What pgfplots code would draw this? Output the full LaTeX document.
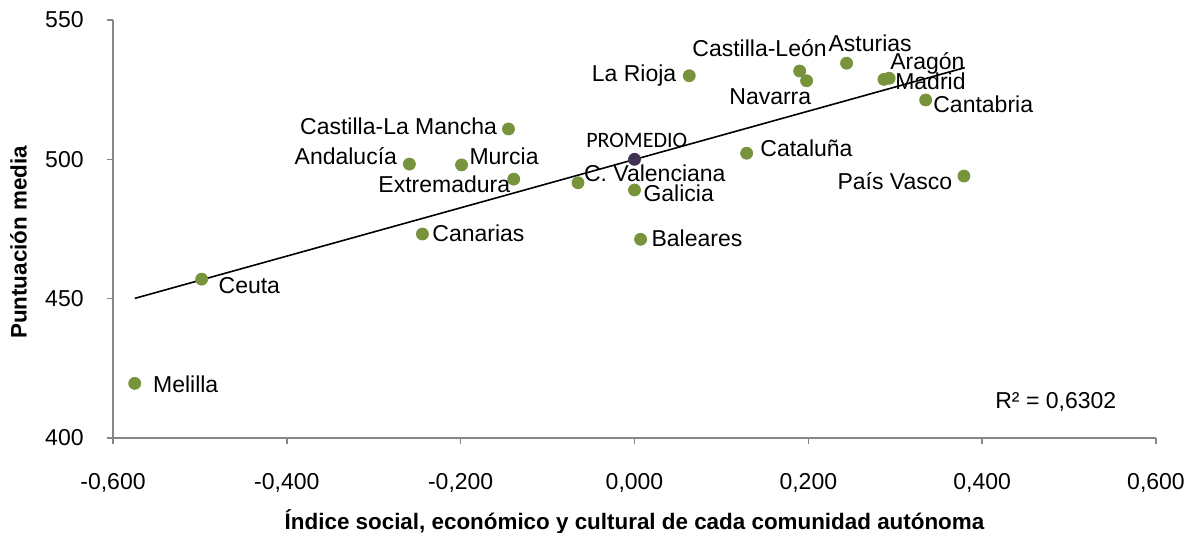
\documentclass[border=0pt]{standalone}
\usepackage{pgfplots}
\pgfplotsset{compat=1.18}
\usepackage{fontspec}
\setmainfont{Liberation Sans}
\newfontfamily\calibri{Carlito}

\definecolor{ptgreen}{HTML}{77933C}
\definecolor{ptpurple}{HTML}{403152}
\definecolor{axisgray}{HTML}{868686}

\begin{document}
\begin{tikzpicture}
\begin{axis}[
    scale only axis,
    width=521.5pt, height=209pt,
    xmin=-0.6, xmax=0.6,
    ymin=400, ymax=550,
    xtick={-0.6,-0.4,-0.2,0,0.2,0.4,0.6},
    ytick={400,450,500,550},
    axis lines*=left,
    axis line style={axisgray, line width=0.7pt},
    tick style={axisgray, line width=0.7pt},
    tick align=outside,
    major tick length=3pt,
    ticklabel style={font=\fontsize{11.5}{13.8}\selectfont},
    xticklabel style={
        /pgf/number format/.cd, fixed, fixed zerofill, precision=3,
        use comma, assume math mode=true,
        /tikz/.cd, anchor=base, inner sep=0pt, yshift=-22.5pt},
    yticklabel style={
        /pgf/number format/assume math mode=true,
        anchor=east, inner sep=0pt, xshift=-11.5pt},
    xlabel={Índice social, económico y cultural de cada comunidad autónoma},
    ylabel={Puntuación media},
    label style={font=\fontsize{11.2}{13.4}\selectfont\bfseries, inner sep=0pt},
    x label style={at={(axis description cs:0.5,-0.2177)}, anchor=base},
    y label style={at={(axis description cs:-0.0828,0.468)}, anchor=base},
    clip=false,
]
% recta de regresion
\addplot[black, line width=0.8pt, no marks] coordinates {(-0.575,450.1) (0.380,532.9)};

% comunidades: x = indice, y = puntuacion; anc/dx/dy colocan la etiqueta
\addplot[
    only marks, mark=*, mark size=3pt,
    mark options={draw=ptgreen, fill=ptgreen},
    point meta=explicit symbolic,
    nodes near coords,
    visualization depends on={value \thisrow{anc}\as\lanc},
    visualization depends on={\thisrow{dx}\as\ldx},
    visualization depends on={\thisrow{dy}\as\ldy},
    every node near coord/.append style={
        font=\fontsize{11.5}{13.8}\selectfont, text=black, inner sep=0pt,
        anchor=\lanc, xshift=\ldx pt, yshift=\ldy pt},
] table[x=x, y=y, meta=label] {
x       y      label                anc           dx     dy
-0.575  419.6  Melilla              {base west}   9      -4.7
-0.498  457.0  Ceuta                {base west}   8.3    -7
-0.244  473.2  Canarias             {base west}   4.8    -3.85
-0.145  510.9  {Castilla-La Mancha} {base east}   -5.5   -3
-0.259  498.3  Andalucía            {base east}   -6     0
-0.199  498.0  Murcia               {base west}   3.8    0.3
-0.139  492.9  Extremadura          {base east}   -1.6   -6.7
-0.065  491.6  {C. Valenciana}      {base west}   2.8    0.5
0.000   489.0  Galicia              {base west}   4.3    -5.8
0.007   471.3  Baleares             {base west}   5.3    -3.7
0.063   530.0  {La Rioja}           {base east}   -6.3   -2.8
0.129   502.2  Cataluña             {base west}   6.7    -1.7
0.190   531.7  Castilla-León        {base east}   13.7   7.15
0.198   528.2  Navarra              {base east}   2.5    -11.65
0.244   534.5  Asturias             {base west}   -9.2   5.8
0.287   528.7  Aragón               {base west}   3      5
0.293   529.1  Madrid               {base west}   2.85   -5.85
0.335   521.3  Cantabria            {base west}   3.65   -6.35
0.379   494.0  {País Vasco}         {base east}   -5.65  -6.65
};

% promedio
\addplot[
    only marks, mark=*, mark size=3pt,
    mark options={draw=ptpurple, fill=ptpurple},
    nodes near coords={PROMEDIO},
    every node near coord/.append style={
        font=\calibri\fontsize{11}{13}\selectfont, text=black, inner sep=0pt,
        anchor=base, xshift=1.1pt, yshift=5.85pt},
] coordinates {(0.000,500.0)};

\node[anchor=base west, inner sep=0pt, font=\fontsize{11.5}{13.8}\selectfont]
    at (axis description cs:0.8456,0.071) {R² = 0,6302};
\end{axis}
\pgfresetboundingbox
\path[use as bounding box] (-56.5pt,-47pt) rectangle (535.5pt,219pt);
\end{tikzpicture}
\end{document}
